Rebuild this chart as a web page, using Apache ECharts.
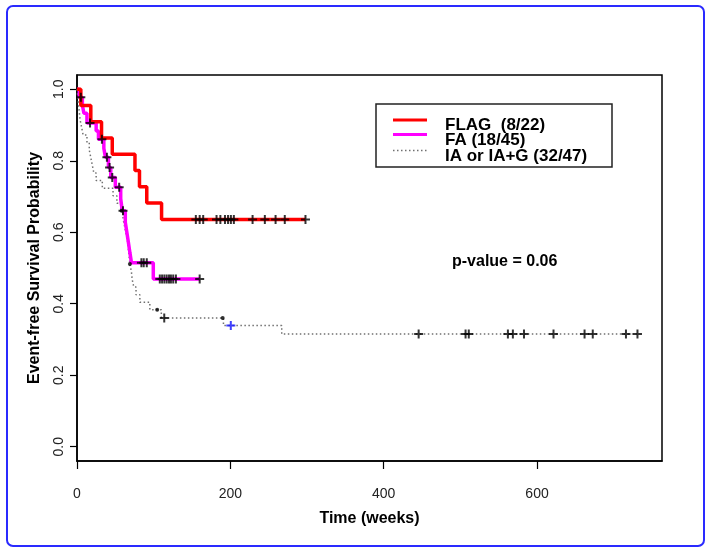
<!DOCTYPE html>
<html>
<head>
<meta charset="utf-8">
<script src="https://cdn.jsdelivr.net/npm/echarts@6/dist/echarts.min.js"></script>
<style>
html,body{margin:0;padding:0;background:#fff;}
#c{width:712px;height:553px;}
</style>
</head>
<body>
<div id="c"></div>
<script>
// ---- data ----
var seriesNames = ['FLAG  (8/22)', 'FA (18/45)', 'IA or IA+G (32/47)'];

var flagTimes = [0, 5, 18, 32, 46, 75.6, 81.5, 91, 110.3, 298];
var flagSurv  = [1, 0.955, 0.909, 0.864, 0.818, 0.773, 0.727, 0.682, 0.636, 0.636];
var flagCensor = [155, 160, 164.6, 182, 187, 193, 197, 200.7, 204.6, 229, 245, 259, 271, 298];

var faTimes = [0, 3, 7, 9, 13, 25, 28, 35, 37, 41, 44, 50, 57, 59, 63, 65, 67, 69, 71, 99.5, 160];
var faSurv  = [1, 0.978, 0.956, 0.933, 0.906, 0.883, 0.860, 0.835, 0.810, 0.781, 0.753, 0.726, 0.694, 0.660, 0.628, 0.600, 0.572, 0.543, 0.515, 0.469, 0.469];
var faCensor = [5, 17, 32.5, 39, 42.5, 46, 55, 60, 84, 87, 91, 108, 111, 114, 117, 120, 122.5, 125.5, 129, 160];

var iaTimes = [0, 1, 2, 3, 4, 6, 8, 13, 16, 18, 20, 22, 25, 33, 47, 52, 57, 60, 62, 64, 66, 67, 68, 69, 71, 72, 74, 77, 82, 95, 110, 191, 267, 733];
var iaSurv  = [1, 0.979, 0.957, 0.936, 0.915, 0.894, 0.872, 0.851, 0.830, 0.809, 0.787, 0.766, 0.745, 0.723, 0.702, 0.681, 0.660, 0.638, 0.617, 0.596, 0.574, 0.553, 0.532, 0.511, 0.489, 0.468, 0.447, 0.425, 0.404, 0.383, 0.360, 0.339, 0.315, 0.315];
var iaCensor = [113.8, 445.6, 506.8, 511, 562, 568.5, 583, 621.5, 662, 672.7, 716, 731];
var iaDots = [58.2, 69, 104.6, 190];
var iaBlueCensor = [200.6];

var xTicks = [0, 200, 400, 600];
var yTicks = [0, 0.2, 0.4, 0.6, 0.8, 1.0];
var pValueText = 'p-value = 0.06';
var xTitle = 'Time (weeks)';
var yTitle = 'Event-free Survival Probability';

// ---- helpers ----
function pairs(ts, ss) { return ts.map(function (t, i) { return [t, ss[i]]; }); }
function lookup(ts, ss, t) {
  var v = ss[0];
  for (var i = 0; i < ts.length; i++) { if (ts[i] <= t) v = ss[i]; }
  return v;
}
function censorPts(cs, ts, ss) { return cs.map(function (t) { return [t, lookup(ts, ss, t)]; }); }

var plusPath = 'path://M3.5,0H5.5V3.5H9V5.5H5.5V9H3.5V5.5H0V3.5H3.5Z';
var FONT = '"Liberation Sans", Arial, sans-serif';
var colors = ['#ff0000', '#ff00ff', '#707070'];

var chart = echarts.init(document.getElementById('c'), null, {renderer: 'canvas'});

var legendX = 376, legendY = 104;
var legendGraphics = [
  {type: 'rect', shape: {x: legendX, y: legendY, width: 236, height: 63},
   style: {fill: '#fff', stroke: '#222', lineWidth: 1.5}, z: 10}
];
var lineYs = [120, 134.5, 150.5];
var textYs = [125, 140, 156];
var lineStyles = [
  {stroke: colors[0], lineWidth: 3},
  {stroke: colors[1], lineWidth: 3},
  {stroke: colors[2], lineWidth: 1.5, lineDash: [1.5, 2.5]}
];
seriesNames.forEach(function (n, i) {
  legendGraphics.push({type: 'line', shape: {x1: 393, y1: lineYs[i], x2: 427, y2: lineYs[i]},
    style: lineStyles[i], z: 11});
  legendGraphics.push({type: 'text', x: 445, y: textYs[i],
    style: {text: n, font: 'bold 17px ' + FONT, fill: '#000', textVerticalAlign: 'middle', textAlign: 'left'}, z: 11});
});

var option = {
  backgroundColor: '#fff',
  animation: false,
  grid: {left: 77, right: 50, top: 75, bottom: 92, show: true, borderColor: '#000', borderWidth: 1.5, backgroundColor: 'transparent'},
  xAxis: {
    type: 'value', min: 0, max: 763,
    name: xTitle, nameLocation: 'middle', nameGap: 50,
    nameTextStyle: {fontFamily: FONT, fontWeight: 'bold', fontSize: 16, color: '#000'},
    axisLine: {show: true, onZero: false, lineStyle: {color: '#000', width: 1.5}},
    axisTick: {show: true, length: 8, lineStyle: {color: '#000', width: 1.2}, customValues: xTicks},
    axisLabel: {show: true, customValues: xTicks, margin: 26, fontFamily: FONT, fontSize: 14, color: '#222'},
    splitLine: {show: false}
  },
  yAxis: {
    type: 'value', min: -0.04, max: 1.04,
    name: yTitle, nameLocation: 'middle', nameGap: 34, nameRotate: 90,
    nameTextStyle: {fontFamily: FONT, fontWeight: 'bold', fontSize: 16, color: '#000'},
    axisLine: {show: true, onZero: false, lineStyle: {color: '#000', width: 1.5}},
    axisTick: {show: true, length: 7, lineStyle: {color: '#000', width: 1.2}, customValues: yTicks},
    axisLabel: {show: true, customValues: yTicks, rotate: 90, margin: 11, fontFamily: FONT, fontSize: 14, color: '#222',
      formatter: function (v) { return Number(v).toFixed(1); }},
    splitLine: {show: false}
  },
  graphic: [
    {type: 'rect', shape: {x: 7, y: 6, width: 697, height: 540, r: 6},
     style: {fill: 'none', stroke: '#2a2aff', lineWidth: 2}, z: 20},
    {type: 'text', x: 452, y: 262,
     style: {text: pValueText, font: 'bold 16px ' + FONT, fill: '#000', textVerticalAlign: 'middle'}, z: 11}
  ].concat(legendGraphics),
  series: [
    {type: 'line', name: seriesNames[2], step: 'end', data: pairs(iaTimes, iaSurv), showSymbol: false, symbol: 'none',
     lineStyle: {color: colors[2], width: 1.5, type: [1.5, 2.5]}, z: 2},
    {type: 'line', name: seriesNames[1], step: 'end', data: pairs(faTimes, faSurv), showSymbol: false, symbol: 'none',
     lineStyle: {color: colors[1], width: 3.5}, z: 3},
    {type: 'line', name: seriesNames[0], step: 'end', data: pairs(flagTimes, flagSurv), showSymbol: false, symbol: 'none',
     lineStyle: {color: colors[0], width: 3.5}, z: 4},
    {type: 'scatter', data: censorPts(flagCensor, flagTimes, flagSurv), symbol: plusPath, symbolSize: 9,
     itemStyle: {color: '#000'}, z: 5},
    {type: 'scatter', data: censorPts(faCensor, faTimes, faSurv), symbol: plusPath, symbolSize: 9,
     itemStyle: {color: '#000'}, z: 5},
    {type: 'scatter', data: censorPts(iaCensor, iaTimes, iaSurv), symbol: plusPath, symbolSize: 9,
     itemStyle: {color: '#000'}, z: 5},
    {type: 'scatter', data: censorPts(iaBlueCensor, iaTimes, iaSurv), symbol: plusPath, symbolSize: 9,
     itemStyle: {color: '#1010ff'}, z: 5},
    {type: 'scatter', data: censorPts(iaDots, iaTimes, iaSurv), symbol: 'circle', symbolSize: 4,
     itemStyle: {color: '#000'}, z: 5}
  ]
};
chart.setOption(option);
</script>
</body>
</html>
